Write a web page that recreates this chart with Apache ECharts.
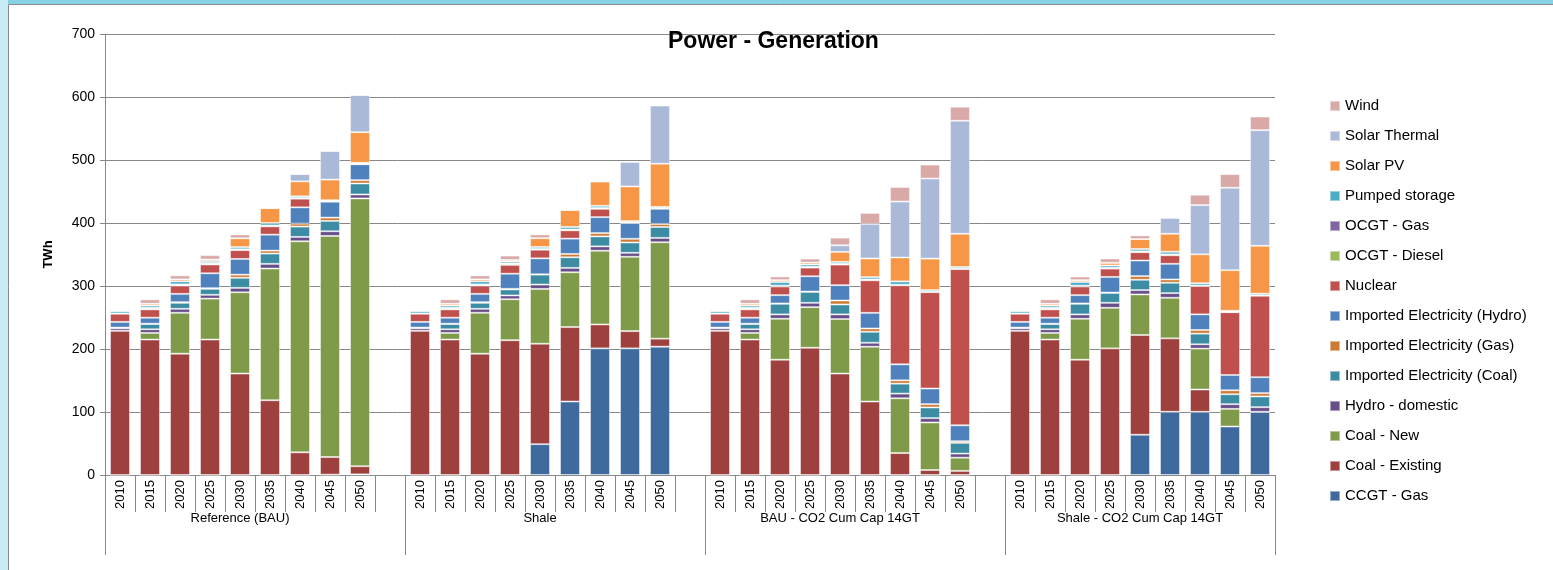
<!DOCTYPE html>
<html>
<head>
<meta charset="utf-8">
<title>Power - Generation</title>
<script src="https://cdn.jsdelivr.net/npm/echarts@6/dist/echarts.min.js"></script>
<style>
  html, body { margin: 0; padding: 0; background: #fff; }
  #chart { width: 1553px; height: 570px; }
</style>
</head>
<body>
<div id="chart"></div>
<script>
// scenarios and years on the x axis
var scenarios = ['Reference (BAU)', 'Shale', 'BAU - CO2 Cum Cap 14GT', 'Shale - CO2 Cum Cap 14GT'];
var years = ['2010', '2015', '2020', '2025', '2030', '2035', '2040', '2045', '2050'];

// TWh per technology, 9 years for each scenario in the order above
var ccgtGas = [
  0, 0, 0, 0, 0, 0, 0, 0.5, 1,
  0, 0, 0, 0, 49, 116.6, 201, 201, 203.7,
  0, 0, 0, 0, 0, 0, 0, 0, 0,
  0, 0, 0, 0, 63.9, 100.3, 100.3, 77, 100.3];
var coalExisting = [
  229, 215, 192.6, 215, 161, 118.7, 36, 28, 13,
  229, 215, 192.6, 214, 159.4, 118.2, 38, 27.4, 12.7,
  229, 215, 183, 202, 161, 116.6, 34.8, 7.9, 6.5,
  229, 215, 183, 201, 158.3, 116.6, 35.4, 0, 0];
var coalNew = [
  0, 10.5, 64.9, 65, 129, 209, 335, 351, 425,
  0, 10.5, 64.9, 65, 87, 87, 117, 118, 153,
  0, 10.5, 65, 64.4, 86.5, 87, 87, 75.5, 21,
  0, 10.5, 65, 64.4, 64.4, 64.4, 64.9, 28, 0];
var hydroDomestic = [
  4, 5.8, 6.3, 6, 7, 7.4, 6.9, 7.4, 6.3,
  4, 5.8, 6.3, 6, 6.9, 6.9, 6.9, 6.3, 6.9,
  4, 5.8, 6.9, 6.9, 7.4, 6.3, 7.4, 6.9, 6.5,
  4, 5.8, 6.9, 7.9, 6.9, 7.4, 6.9, 7.4, 7.4];
var impCoal = [
  1, 8.4, 9.5, 9.5, 16, 16.4, 16.4, 16.4, 17.4,
  1, 8.4, 9.5, 9.5, 15.8, 16.9, 15.8, 16.4, 17.4,
  1, 8.4, 16.9, 17.4, 15.8, 17.4, 15.8, 16.9, 17,
  1, 8.4, 16.9, 15.8, 16.4, 16.4, 16.9, 15.8, 17];
var impGas = [
  0, 0.5, 1, 1, 5, 4.7, 4.7, 5.3, 5.3,
  0, 0.5, 1, 1, 0.5, 5.3, 5.3, 5.8, 4.7,
  0, 0.5, 0.5, 0.5, 6.3, 5.3, 5.3, 5.3, 2.6,
  0, 0.5, 0.5, 0.5, 5.8, 5.3, 5.8, 6.3, 5.3];
var impHydro = [
  9, 9.5, 13.2, 23.7, 25, 25.3, 25.9, 25.3, 25.3,
  9, 9.5, 13.2, 24, 25.3, 24.3, 25.3, 25.3, 24.3,
  9, 9.5, 13.2, 24.3, 24.3, 24.8, 25.3, 24.8, 25.3,
  9, 9.5, 13.2, 24.8, 24.8, 24.8, 24.8, 24.3, 25.3];
var nuclear = [
  13, 13.2, 13.2, 14, 14, 13.2, 13.7, 0, 0,
  13, 13.2, 13.2, 14, 13.7, 13.2, 13.2, 0, 0,
  13, 13.2, 13.7, 13.7, 32.7, 51.7, 125.6, 153, 248,
  13, 13.2, 13.7, 13.2, 13.2, 13.7, 44.9, 99.7, 129.3];
var ocgtDiesel = [
  0.5, 2, 1.5, 2, 1, 1, 1, 0.5, 0.5,
  0.5, 2, 1.5, 2, 1, 1, 1, 0.5, 0.5,
  0.5, 2, 1, 1, 1, 1, 0.5, 0.3, 0.3,
  0.5, 2, 1, 1, 1, 1, 0.5, 0.3, 0.3];
var ocgtGas = [
  0, 0.5, 0.3, 0.3, 0.3, 0.3, 0.3, 0.3, 0.3,
  0, 0.5, 0.3, 0.3, 0.3, 0.3, 0.3, 0.3, 0.3,
  0, 0.5, 0.3, 0.3, 0.3, 0.3, 0.3, 0.3, 0.3,
  0, 0.5, 0.3, 0.3, 0.3, 0.3, 0.3, 0.3, 0.3];
var pumpedStorage = [
  4, 3.5, 5, 3, 3.5, 4, 2.5, 1.5, 1.5,
  4, 3.5, 5, 3, 3, 4, 3.5, 2, 2,
  4, 3.5, 5.8, 3.7, 3, 3.7, 5.3, 2.6, 2.6,
  4, 3.5, 5.8, 3.7, 3.7, 4.2, 3.7, 1.6, 2.6];
var solarPV = [
  0, 3, 3, 2.5, 14, 23.7, 23.7, 32.7, 48.5,
  0, 3, 3, 2.5, 14, 27, 38.5, 55, 68.6,
  0, 3, 3, 3, 15.8, 29.6, 38, 50, 52.8,
  0, 3, 3, 4.2, 15.8, 28.5, 45.9, 64.4, 76];
var solarThermal = [
  0, 0, 0, 0, 0, 0, 11.6, 45.4, 59,
  0, 0, 0, 0, 0, 0, 0, 39, 92.3,
  0, 0, 0, 0, 10.6, 54.9, 88.7, 127, 179.4,
  0, 0, 0, 0, 0, 25.3, 78.1, 130.9, 183.6];
var wind = [
  0.5, 6.9, 6.3, 7, 6, 0, 0, 0, 0,
  0.5, 6.9, 6.3, 7, 6, 0, 0, 0, 0,
  0.5, 6.9, 5.8, 6.3, 12.1, 17.4, 23.2, 22.2, 22.2,
  0.5, 6.9, 5.8, 6.9, 5.8, 0, 16.4, 21.6, 21.6];

// stacking order, bottom to top
var seriesNames = ['CCGT - Gas', 'Coal - Existing', 'Coal - New', 'Hydro - domestic',
  'Imported Electricity (Coal)', 'Imported Electricity (Gas)', 'Imported Electricity (Hydro)',
  'Nuclear', 'OCGT - Diesel', 'OCGT - Gas', 'Pumped storage', 'Solar PV', 'Solar Thermal', 'Wind'];
var seriesValues = [ccgtGas, coalExisting, coalNew, hydroDomestic, impCoal, impGas, impHydro,
  nuclear, ocgtDiesel, ocgtGas, pumpedStorage, solarPV, solarThermal, wind];
var seriesColors = ['#3F6A9D', '#9E413E', '#7F9A48', '#674E88', '#3C8DA3', '#CD7A35', '#4F81BD',
  '#C0504D', '#9BBB59', '#8064A2', '#4BACC6', '#F79646', '#AAB9D8', '#D9A9A8'];

// one empty slot between scenarios
var yearCats = [], groupCats = [];
scenarios.forEach(function (s, g) {
  if (g > 0) { yearCats.push(''); groupCats.push(''); }
  years.forEach(function (y, i) {
    yearCats.push(y);
    groupCats.push(i === 4 ? s : '');
  });
});
function spread(vals) {
  var out = [];
  for (var g = 0; g < scenarios.length; g++) {
    if (g > 0) out.push('-');
    for (var i = 0; i < years.length; i++) out.push(vals[g * years.length + i]);
  }
  return out;
}
var groupStarts = [0, 10, 20, 30];

var font = 'Liberation Sans, Arial, sans-serif';
var myChart = echarts.init(document.getElementById('chart'));
var series = seriesNames.map(function (name, k) {
  return {
    name: name,
    type: 'bar',
    stack: 'gen',
    barWidth: 20,
    data: spread(seriesValues[k]),
    itemStyle: {
      color: seriesColors[k],
      borderColor: 'rgba(255,255,255,0.45)',
      borderWidth: 1
    }
  };
});
var option = {
  animation: false,
  backgroundColor: '#ffffff',
  graphic: [
    { type: 'rect', shape: { x: 0, y: 0, width: 1553, height: 4 }, style: { fill: '#86d2e4' }, z: -10 },
    { type: 'rect', shape: { x: 0, y: 0, width: 8, height: 570 }, style: { fill: '#c8ebf3' }, z: -10 },
    { type: 'polyline', shape: { points: [[8.5, 570], [8.5, 4.5], [1553, 4.5]] },
      style: { stroke: '#8a8a8a', lineWidth: 1, fill: null }, z: -9 }
  ],
  title: {
    text: 'Power - Generation',
    left: 663,
    top: 25,
    textStyle: { fontFamily: font, fontSize: 23, fontWeight: 'bold', color: '#000' }
  },
  legend: {
    orient: 'vertical',
    left: 1329,
    top: 98,
    padding: 0,
    itemWidth: 10,
    itemHeight: 10,
    itemGap: 14,
    icon: 'rect',
    selectedMode: false,
    data: seriesNames.slice().reverse(),
    textStyle: { fontFamily: font, fontSize: 15, lineHeight: 16, color: '#000' }
  },
  grid: { left: 105, right: 278, top: 34, bottom: 95, containLabel: false },
  xAxis: [{
    type: 'category',
    position: 'bottom',
    data: yearCats,
    axisLine: { lineStyle: { color: '#888', width: 1 } },
    axisTick: { show: true, interval: 0, length: 37, lineStyle: { color: '#888' } },
    axisLabel: { interval: 0, rotate: 90, margin: 5, fontFamily: font, fontSize: 13, color: '#000' }
  }, {
    type: 'category',
    position: 'bottom',
    data: groupCats,
    axisLine: { show: false },
    axisTick: {
      show: true,
      length: 80,
      interval: function (index) { return groupStarts.indexOf(index) >= 0; },
      lineStyle: { color: '#888' }
    },
    axisLabel: { interval: 0, margin: 37, fontFamily: font, fontSize: 13, color: '#000' }
  }],
  yAxis: {
    type: 'value',
    min: 0,
    max: 700,
    interval: 100,
    name: 'TWh',
    nameLocation: 'middle',
    nameRotate: 90,
    nameGap: 50,
    nameTextStyle: { fontFamily: font, fontSize: 13, fontWeight: 'bold', color: '#000' },
    axisLine: { show: true, lineStyle: { color: '#888' } },
    axisTick: { show: true, length: 5, lineStyle: { color: '#888' } },
    axisLabel: { margin: 10, fontFamily: font, fontSize: 14, color: '#000' },
    splitLine: { lineStyle: { color: '#888', width: 1 } }
  },
  series: series
};
myChart.setOption(option);
window.onresize = function () {
  myChart.resize();
};
</script>
</body>
</html>
